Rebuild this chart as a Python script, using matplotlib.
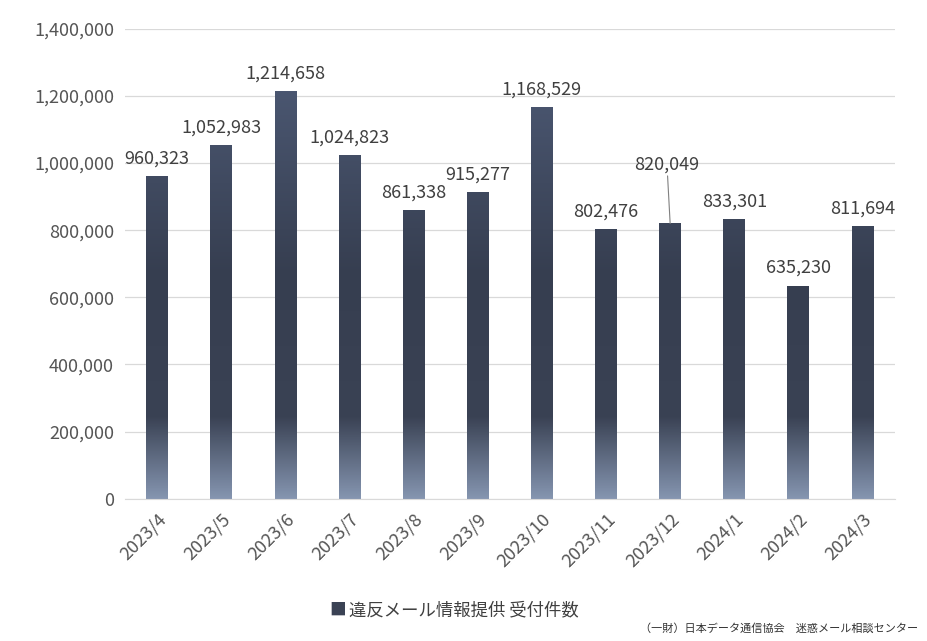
import matplotlib
matplotlib.use("Agg")
import matplotlib.pyplot as plt
import numpy as np
from matplotlib.colors import LinearSegmentedColormap
from matplotlib.patches import Rectangle

plt.rcParams["font.family"] = ["Noto Sans CJK JP"]

categories = ["2023/4","2023/5","2023/6","2023/7","2023/8","2023/9","2023/10","2023/11","2023/12","2024/1","2024/2","2024/3"]
values = [960323,1052983,1214658,1024823,861338,915277,1168529,802476,820049,833301,635230,811694]
yticks = [0,200000,400000,600000,800000,1000000,1200000,1400000]
legend_label = "違反メール情報提供 受付件数"
footer = "（一財）日本データ通信協会　迷惑メール相談センター"

fig = plt.figure(figsize=(9.27,6.41), dpi=100)
ax = fig.add_axes([0.135, 0.222, 0.83, 0.733])
ax.set_xlim(-0.5, len(categories)-0.5)
ax.set_ylim(0, 1400000)
ax.set_yticks(yticks)
ax.set_yticklabels([f"{v:,}" for v in yticks], fontsize=13, color="#555555")
ax.set_xticks(range(len(categories)))
ax.set_xticklabels(categories, rotation=45, ha="right", rotation_mode="anchor", fontsize=13, color="#555555")
ax.tick_params(length=0, pad=8)
ax.grid(axis="y", color="#d9d9d9", lw=0.9)
ax.set_axisbelow(True)
for s in ax.spines.values():
    s.set_visible(False)
ax.spines["bottom"].set_visible(True)
ax.spines["bottom"].set_color("#d9d9d9")

cmap = LinearSegmentedColormap.from_list("g", [(0, "#8595b0"), (0.2, "#3a4254"), (0.55, "#363e50"), (1, "#4a5670")])
grad = np.linspace(0, 1, 256).reshape(-1, 1)
w = 0.34
for i, v in enumerate(values):
    im = ax.imshow(grad, cmap=cmap, aspect="auto", origin="lower",
                   extent=[i-w/2, i+w/2, 0, 1200000*0 + 1214658], zorder=2)
    clip = Rectangle((i-w/2, 0), w, v, transform=ax.transData)
    im.set_clip_path(clip)
    if i == 8:
        ax.annotate(f"{v:,}", xy=(i, v), xytext=(i-0.05, v+150000), ha="center", va="bottom",
                    fontsize=13, color="#404040",
                    arrowprops=dict(arrowstyle="-", color="#808080", lw=0.8, shrinkA=0, shrinkB=0))
    else:
        ax.text(i, v+25000, f"{v:,}", ha="center", va="bottom", fontsize=13, color="#404040")
ax.set_xlim(-0.5, len(categories)-0.5)
ax.set_ylim(0, 1400000)

fig.text(0.355, 0.048, "■", fontsize=12, color="#3a4254", va="center")
fig.text(0.376, 0.048, legend_label, fontsize=12.5, color="#404040", va="center")
fig.text(0.99, 0.02, footer, fontsize=8, color="#333333", ha="right", va="center")
fig.savefig("out.png")
